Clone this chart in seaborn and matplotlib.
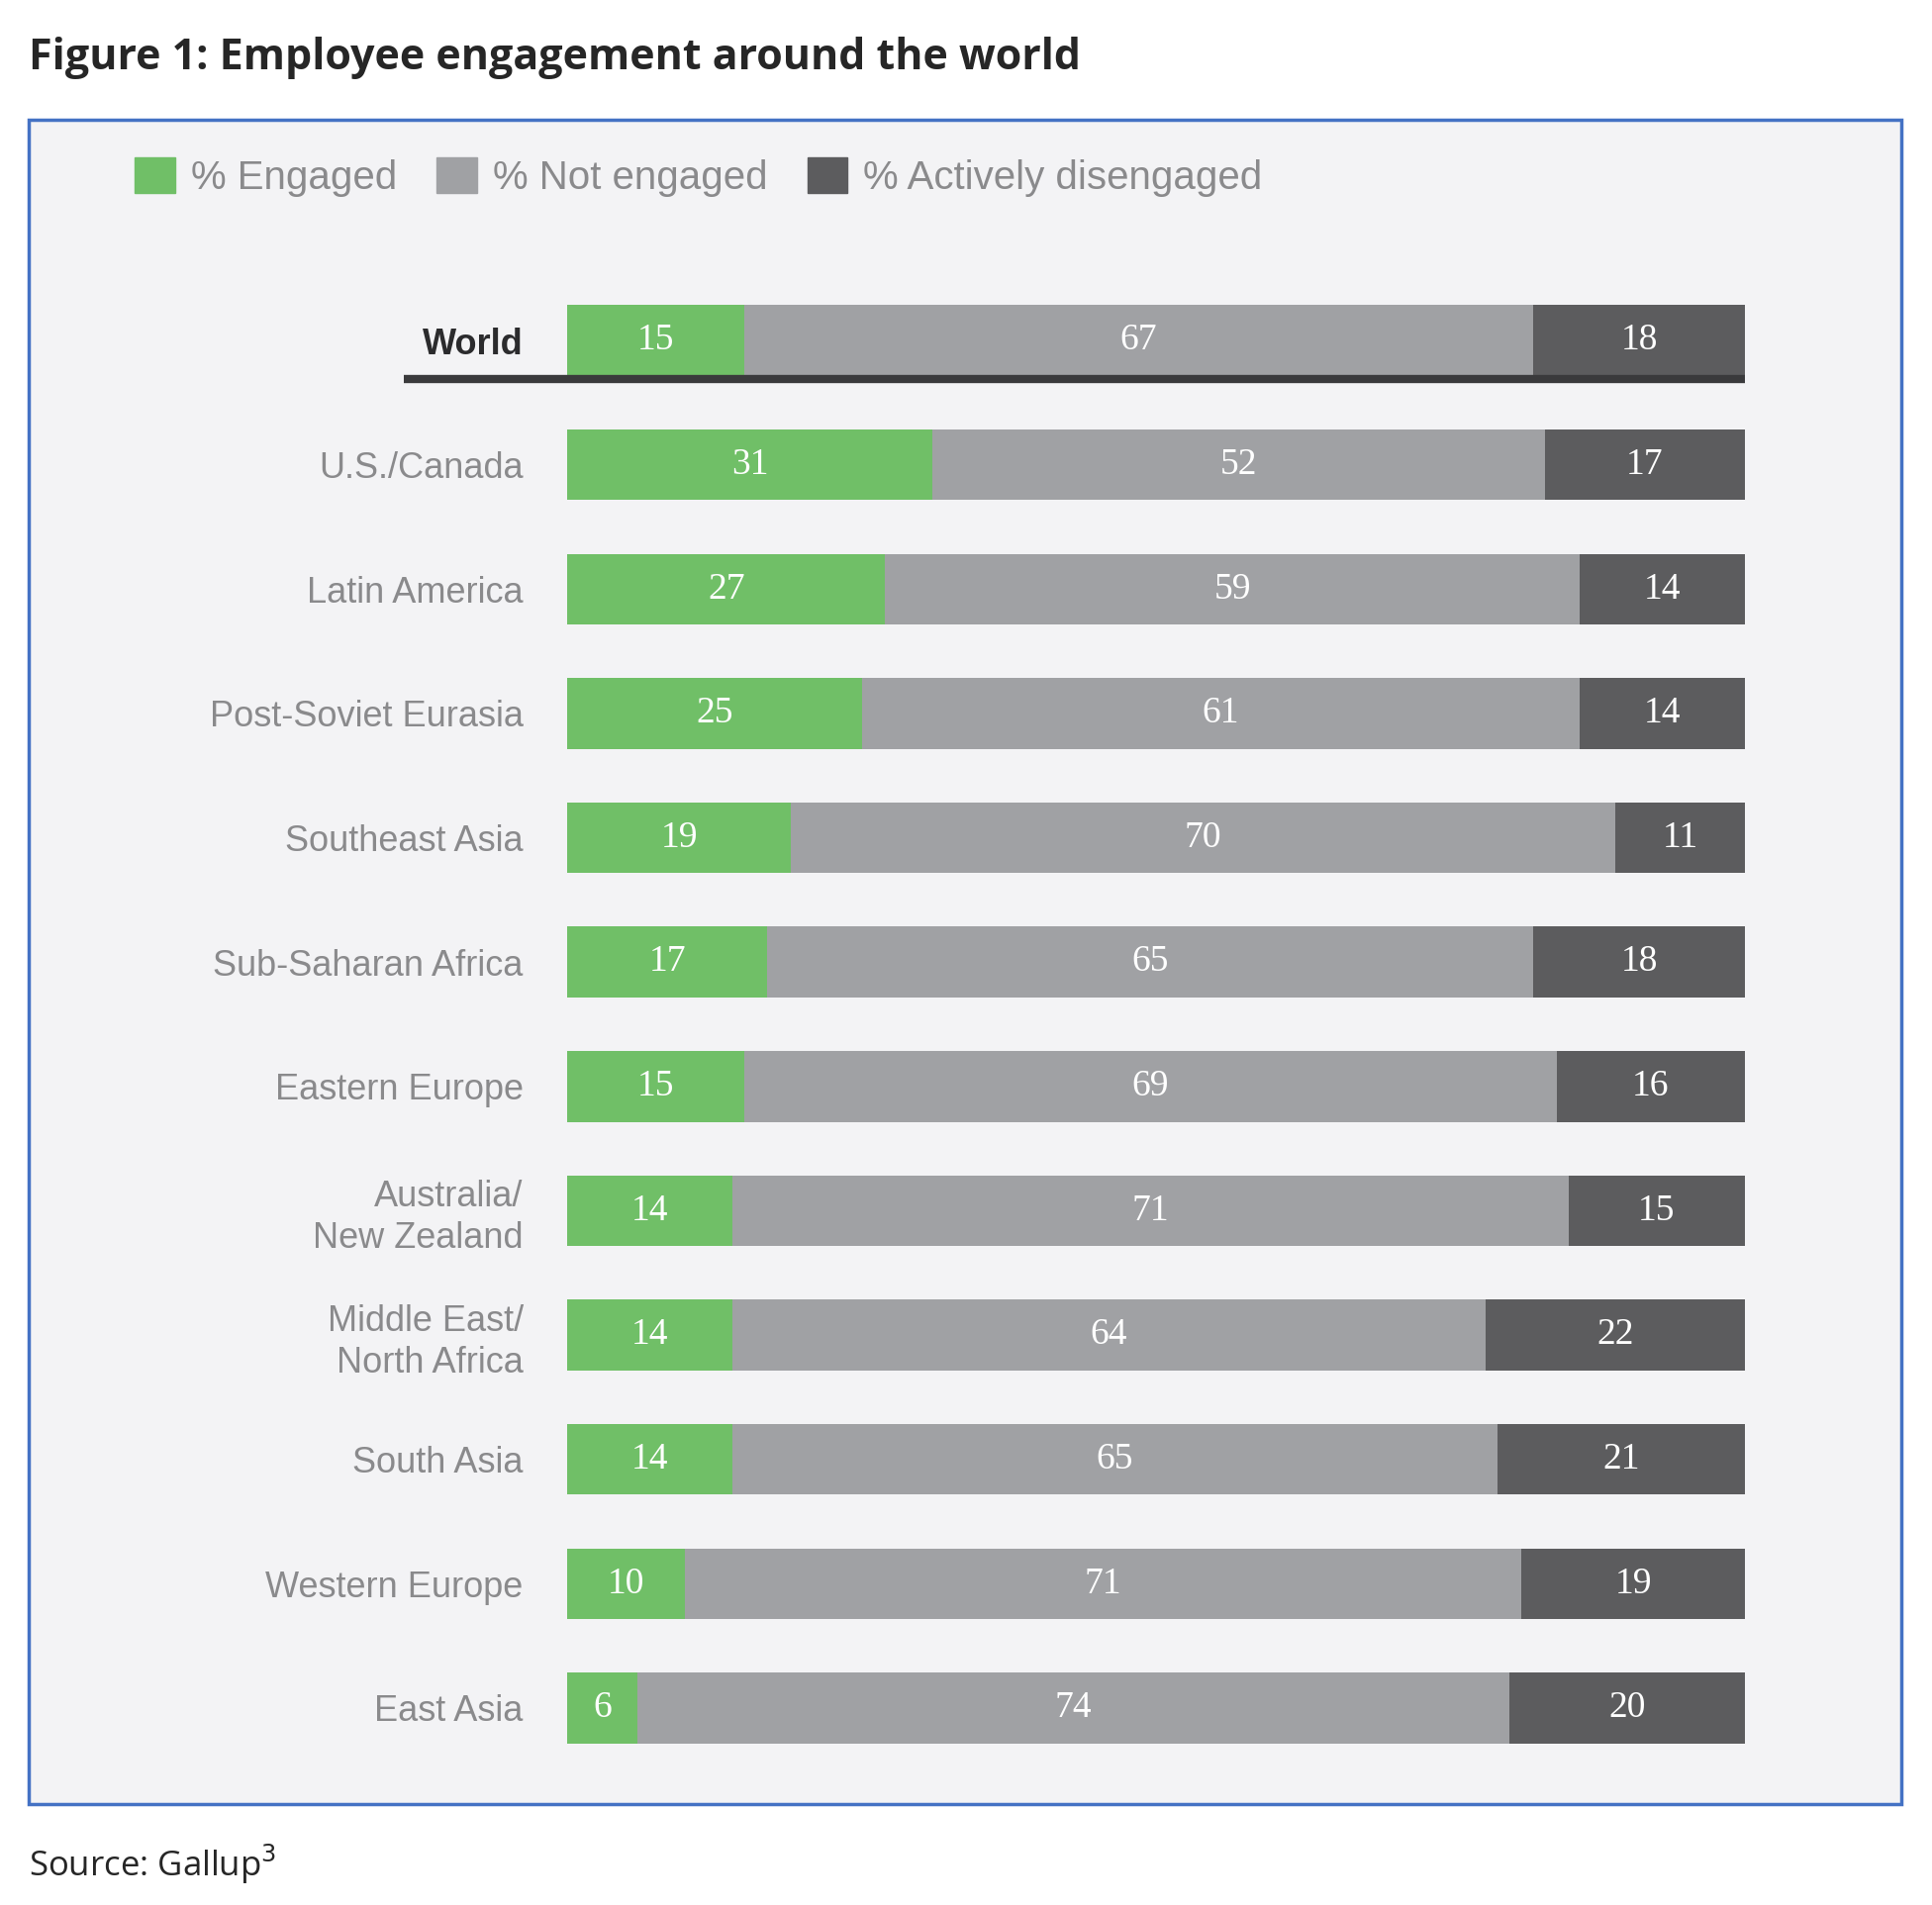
import matplotlib
matplotlib.use("Agg")
import matplotlib.pyplot as plt
import seaborn as sns
import pandas as pd
from matplotlib.patches import Rectangle, Patch
from matplotlib.lines import Line2D

regions = ["World", "U.S./Canada", "Latin America", "Post-Soviet Eurasia", "Southeast Asia",
           "Sub-Saharan Africa", "Eastern Europe", "Australia/\nNew Zealand",
           "Middle East/\nNorth Africa", "South Asia", "Western Europe", "East Asia"]
engaged = [15, 31, 27, 25, 19, 17, 15, 14, 14, 14, 10, 6]
not_engaged = [67, 52, 59, 61, 70, 65, 69, 71, 64, 65, 71, 74]
disengaged = [18, 17, 14, 14, 11, 18, 16, 15, 22, 21, 19, 20]

GREEN, GREY, DARK = "#70bf67", "#a0a1a4", "#5c5c5e"

df = pd.DataFrame({"region": regions, "eng": engaged, "not": not_engaged, "dis": disengaged})
df["c1"] = df["eng"]
df["c2"] = df["eng"] + df["not"]
df["c3"] = df["c2"] + df["dis"]

sns.set_style("white")
fig = plt.figure(figsize=(19.52, 19.25), dpi=100)
W, H = 1560, 1540

# panel box
fig.patches.append(Rectangle((23 / W, 1 - 1458 / H), (1535 - 23) / W, (1458 - 97) / H,
                             transform=fig.transFigure, facecolor="#f3f3f5",
                             edgecolor="#4472c4", linewidth=2.5, zorder=-5))

ax = fig.add_axes([458 / W, 1 - 1431 / H, (1409 - 458) / W, (1431 - 225) / H])
ax.set_zorder(2)
ax.set_facecolor("none")
for col, c in [("c3", DARK), ("c2", GREY), ("c1", GREEN)]:
    sns.barplot(data=df, x=col, y="region", color=c, orient="h", width=0.57,
                saturation=1, ax=ax, linewidth=0)
ax.set_xlim(0, 100)
ax.set_xlabel("")
ax.set_ylabel("")
ax.set_xticks([])
sns.despine(ax=ax, left=True, bottom=True)
ax.tick_params(axis="y", length=0, pad=32)
ax.set_yticks(range(len(regions)))
ax.set_yticklabels(regions, fontsize=26, color="#8a8a8c", family="Liberation Sans",
                   linespacing=1.25, ha="right")
lab = ax.get_yticklabels()[0]
lab.set_fontweight("bold")
lab.set_color("#2b2b2d")

for i, r in df.iterrows():
    for start, val in [(0, r["eng"]), (r["c1"], r["not"]), (r["c2"], r["dis"])]:
        ax.text(start + val / 2, i, str(val), ha="center", va="center", color="white",
                fontsize=27, family="Liberation Serif")

# underline under World
fig.add_artist(Line2D([326 / W, 1409 / W], [1 - 306 / H, 1 - 306 / H], color="#3a3a3c",
                      linewidth=6, solid_capstyle="butt", transform=fig.transFigure, zorder=3))

handles = [Patch(color=GREEN, label="% Engaged"), Patch(color=GREY, label="% Not engaged"),
           Patch(color=DARK, label="% Actively disengaged")]
fig.legend(handles=handles, loc="center left", bbox_to_anchor=(80 / W, 1 - 143 / H),
           ncol=3, frameon=False, handlelength=1.0, handleheight=1.0, handletextpad=0.4,
           columnspacing=1.0, prop={"family": "Liberation Sans", "size": 29},
           labelcolor="#8a8a8c")

fig.text(23 / W, 1 - 47 / H, "Figure 1: Employee engagement around the world", fontsize=31,
         fontweight="bold", family="Open Sans", va="center", ha="left")
fig.text(23 / W, 1 - 1507 / H, "Source: Gallup$^{3}$", fontsize=25, family="Open Sans",
         va="center", ha="left")

fig.savefig("out.png", dpi=100, facecolor="white")
